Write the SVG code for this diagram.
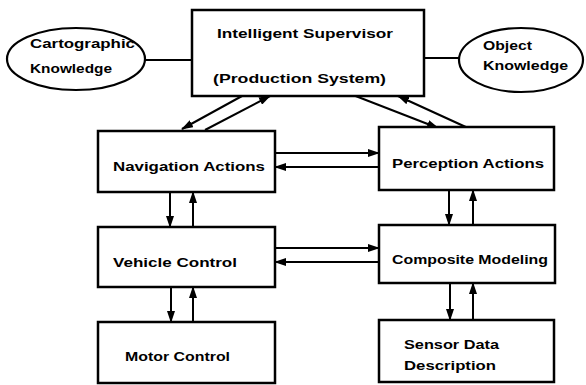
<svg xmlns="http://www.w3.org/2000/svg" width="586" height="385" viewBox="0 0 586 385">
<defs>
<marker id="ah" viewBox="0 0 12 8" refX="11" refY="4" markerWidth="6" markerHeight="4" orient="auto" markerUnits="strokeWidth">
<path d="M0,0 L12,4 L0,8 z" fill="#000"/>
</marker>
</defs>
<style>
.box{fill:#fff;stroke:#000;stroke-width:2.5}
.ell{fill:#fff;stroke:#000;stroke-width:2.2}
.t{font-family:"Liberation Sans",Arial,sans-serif;font-weight:bold;font-size:13px;fill:#000}
.c{stroke:#000;stroke-width:2;fill:none;marker-end:url(#ah)}
.l{stroke:#000;stroke-width:2;fill:none}
</style>
<rect width="586" height="385" fill="#fff"/>
<g id="connectors">
<line class="l" x1="145" y1="60" x2="192" y2="60"/>
<line class="l" x1="424" y1="58" x2="460" y2="58"/>
<line class="c" x1="242" y1="96" x2="182" y2="129"/>
<line class="c" x1="205" y1="130" x2="270" y2="96"/>
<line class="c" x1="353" y1="95" x2="438" y2="128"/>
<line class="c" x1="468" y1="128" x2="398" y2="96"/>
<line class="c" x1="275" y1="153" x2="379" y2="153"/>
<line class="c" x1="379" y1="167" x2="275" y2="167"/>
<line class="c" x1="275" y1="248" x2="379" y2="248"/>
<line class="c" x1="379" y1="262" x2="275" y2="262"/>
<line class="c" x1="170" y1="192" x2="170" y2="227"/>
<line class="c" x1="193" y1="227" x2="193" y2="192"/>
<line class="c" x1="171" y1="287" x2="171" y2="322"/>
<line class="c" x1="193" y1="322" x2="193" y2="287"/>
<line class="c" x1="449" y1="190" x2="449" y2="225"/>
<line class="c" x1="473" y1="225" x2="473" y2="190"/>
<line class="c" x1="450" y1="283" x2="450" y2="320"/>
<line class="c" x1="473" y1="320" x2="473" y2="283"/>
</g>
<g id="supervisor">
<rect class="box" x="192" y="10" width="232" height="86"/>
<text class="t" x="217" y="38" textLength="176" lengthAdjust="spacingAndGlyphs">Intelligent  Supervisor</text>
<text class="t" x="213" y="83" textLength="173" lengthAdjust="spacingAndGlyphs">(Production  System)</text>
</g>
<g id="cartographic">
<ellipse class="ell" cx="76" cy="59" rx="69" ry="31"/>
<text class="t" x="30" y="48" textLength="105" lengthAdjust="spacingAndGlyphs">Cartographic</text>
<text class="t" x="30" y="73" textLength="82" lengthAdjust="spacingAndGlyphs">Knowledge</text>
</g>
<g id="object">
<ellipse class="ell" cx="521" cy="60" rx="62" ry="32"/>
<text class="t" x="483" y="50" textLength="49" lengthAdjust="spacingAndGlyphs">Object</text>
<text class="t" x="483" y="70" textLength="85" lengthAdjust="spacingAndGlyphs">Knowledge</text>
</g>
<g id="navigation">
<rect class="box" x="98" y="131" width="177" height="61"/>
<text class="t" x="113" y="171" textLength="152" lengthAdjust="spacingAndGlyphs">Navigation  Actions</text>
</g>
<g id="perception">
<rect class="box" x="379" y="127" width="175" height="63"/>
<text class="t" x="392" y="168" textLength="152" lengthAdjust="spacingAndGlyphs">Perception  Actions</text>
</g>
<g id="vehicle">
<rect class="box" x="98" y="227" width="177" height="60"/>
<text class="t" x="113" y="267" textLength="124" lengthAdjust="spacingAndGlyphs">Vehicle  Control</text>
</g>
<g id="composite">
<rect class="box" x="379" y="225" width="176" height="58"/>
<text class="t" x="392" y="264" textLength="156" lengthAdjust="spacingAndGlyphs">Composite  Modeling</text>
</g>
<g id="motor">
<rect class="box" x="98" y="322" width="177" height="61"/>
<text class="t" x="125" y="361" textLength="105" lengthAdjust="spacingAndGlyphs">Motor  Control</text>
</g>
<g id="sensor">
<rect class="box" x="379" y="320" width="175" height="62"/>
<text class="t" x="404" y="349" textLength="95" lengthAdjust="spacingAndGlyphs">Sensor  Data</text>
<text class="t" x="404" y="370" textLength="92" lengthAdjust="spacingAndGlyphs">Description</text>
</g>
</svg>
